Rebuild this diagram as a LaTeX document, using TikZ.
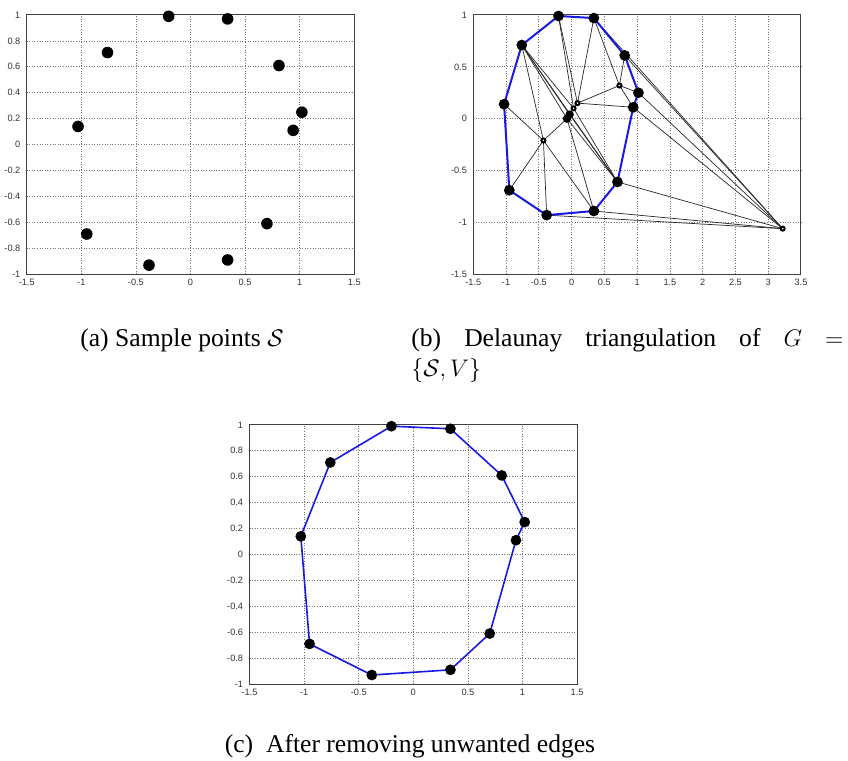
\documentclass[tikz,border=0pt]{standalone}
\usepackage{fontspec}
\setmainfont{Liberation Serif}
\newfontfamily\axisfont{Liberation Sans}
\usepackage{tikz}
\definecolor{hullblue}{RGB}{25,25,230}

% sample points, in the order of their outline
\newcommand{\samplepts}{-0.20/0.99, 0.34/0.97, 0.81/0.61, 1.02/0.25, 0.94/0.11,
  0.70/-0.61, 0.34/-0.89, -0.38/-0.93, -0.95/-0.69, -1.03/0.14, -0.76/0.71}

\begin{document}
\begin{tikzpicture}[
      axbox/.style={draw=black!75, line width=0.5pt},
      gridln/.style={black!55, line width=0.35pt, dash pattern=on 0.4pt off 0.9pt},
      tck/.style={font=\axisfont\fontsize{4.6}{5}\selectfont, text=black!80, inner sep=0pt},
      xtck/.style={tck, anchor=north, yshift=-2.3pt},
      ytck/.style={tck, anchor=east, xshift=-3pt},
      dedge/.style={black!85, line width=0.35pt},
      hull/.style={hullblue, line width=1pt, line join=round},
      captxt/.style={font=\fontsize{12.8}{15.4}\selectfont, inner sep=0pt}
    ]
    \useasboundingbox (0,0) rectangle (424pt,380.5pt);

    % ══ (a): sample points ════════════════════════════════════════════════
    \begin{scope}[shift={(95.25pt,308.2pt)}, x=54.6pt, y=64.8pt]
      \foreach \v in {-1,-0.5,0,0.5,1}
        \draw[gridln] (\v,-1) -- (\v,1);
      \foreach \v in {-0.8,-0.6,-0.4,-0.2,0,0.2,0.4,0.6,0.8}
        \draw[gridln] (-1.5,\v) -- (1.5,\v);
      \draw[axbox] (-1.5,-1) rectangle (1.5,1);
      \foreach \v [count=\k] in {-1.5,-1,-0.5,0,0.5,1,1.5}
        \node[xtck] (ax\k) at (\v,-1) {\v};
      \foreach \v [count=\k] in {-1,-0.8,-0.6,-0.4,-0.2,0,0.2,0.4,0.6,0.8,1}
        \node[ytck] (ay\k) at (-1.5,\v) {\v};
      \foreach \px/\py [count=\k] in \samplepts
        \coordinate (a\k) at (\px,\py);
      \foreach \k in {1,...,11}
        \fill (a\k) circle (2.9pt);
    \end{scope}

    % ══ (b): Delaunay triangulation ═══════════════════════════════════════
    \begin{scope}[shift={(285.8pt,321.15pt)}, x=32.77pt, y=51.86pt]
      \foreach \v in {-1,-0.5,0,0.5,1,1.5,2,2.5,3}
        \draw[gridln] (\v,-1.5) -- (\v,1);
      \foreach \v in {-1,-0.5,0,0.5}
        \draw[gridln] (-1.5,\v) -- (3.5,\v);
      \draw[axbox] (-1.5,-1.5) rectangle (3.5,1);
      \foreach \v [count=\k] in {-1.5,-1,-0.5,0,0.5,1,1.5,2,2.5,3,3.5}
        \node[xtck] (bx\k) at (\v,-1.5) {\v};
      \foreach \v [count=\k] in {-1.5,-1,-0.5,0,0.5,1}
        \node[ytck] (by\k) at (-1.5,\v) {\v};
      \foreach \px/\py [count=\k] in \samplepts
        \coordinate (b\k) at (\px,\py);
      % extra vertices V
      \coordinate (v1) at (0.73,0.32);
      \coordinate (v2) at (0.09,0.15);
      \coordinate (v3) at (0.03,0.10);
      \coordinate (v4) at (-0.07,0.00);
      \coordinate (v5) at (-0.03,0.04);
      \coordinate (v6) at (-0.43,-0.21);
      \coordinate (v7) at (3.22,-1.06);
      \foreach \p/\q in {v6/b10, v6/b9, v6/b8, v6/b7, v6/b11, v6/v4,
          b11/v4, b11/v5, b11/v3, b11/b6, b1/v3, b1/v2,
          b2/v2, b2/v1, b2/v7, b3/v1, b3/v7, v1/b4, v1/b5, v1/v2,
          v2/b5, v2/v3, b4/v7, b5/v7, b6/v7, b7/v7, b8/v7,
          v4/b7, v4/b6, v4/v5, v5/v3, v5/b6, v3/b6}
        \draw[dedge] (\p) -- (\q);
      \draw[hull] (b1) -- (b2) -- (b3) -- (b4) -- (b5) -- (b6) -- (b7)
        -- (b8) -- (b9) -- (b10) -- (b11) -- cycle;
      \foreach \k in {1,...,11}
        \fill (b\k) circle (2.7pt);
      \fill (v4) circle (2.1pt);
      \fill (v5) circle (2.1pt);
      \foreach \p in {v1,v2,v3,v6,v7}
        \draw[line width=1pt, fill=white] (\p) circle (1pt);
    \end{scope}

    % ══ (c): after removing unwanted edges ════════════════════════════════
    \begin{scope}[shift={(206.65pt,103.25pt)}, x=54.6pt, y=64.8pt]
      \foreach \v in {-1,-0.5,0,0.5,1}
        \draw[gridln] (\v,-1) -- (\v,1);
      \foreach \v in {-0.8,-0.6,-0.4,-0.2,0,0.2,0.4,0.6,0.8}
        \draw[gridln] (-1.5,\v) -- (1.5,\v);
      \draw[axbox] (-1.5,-1) rectangle (1.5,1);
      \foreach \v [count=\k] in {-1.5,-1,-0.5,0,0.5,1,1.5}
        \node[xtck] (cx\k) at (\v,-1) {\v};
      \foreach \v [count=\k] in {-1,-0.8,-0.6,-0.4,-0.2,0,0.2,0.4,0.6,0.8,1}
        \node[ytck] (cy\k) at (-1.5,\v) {\v};
      \foreach \px/\py [count=\k] in \samplepts
        \coordinate (c\k) at (\px,\py);
      \draw[hull, line width=0.8pt] (c1) -- (c2) -- (c3) -- (c4) -- (c5) -- (c6)
        -- (c7) -- (c8) -- (c9) -- (c10) -- (c11) -- cycle;
      \foreach \k in {1,...,11}
        \fill (c\k) circle (2.7pt);
    \end{scope}

    % captions
    \node[captxt, anchor=base] (capa) at (91pt,207pt) {(a) Sample points $\mathcal{S}$};
    \node[captxt, anchor=base west] (capb) at (205.5pt,207pt)
      {\makebox[216pt][s]{(b) Delaunay triangulation of $G$ $=$}};
    \node[captxt, anchor=base west] (capbb) at (205.5pt,192pt) {$\{\mathcal{S},V\}$};
    \node[captxt, anchor=base] (capc) at (205pt,4pt)
      {(c)\enspace After removing unwanted edges};

  \end{tikzpicture}
\end{document}
